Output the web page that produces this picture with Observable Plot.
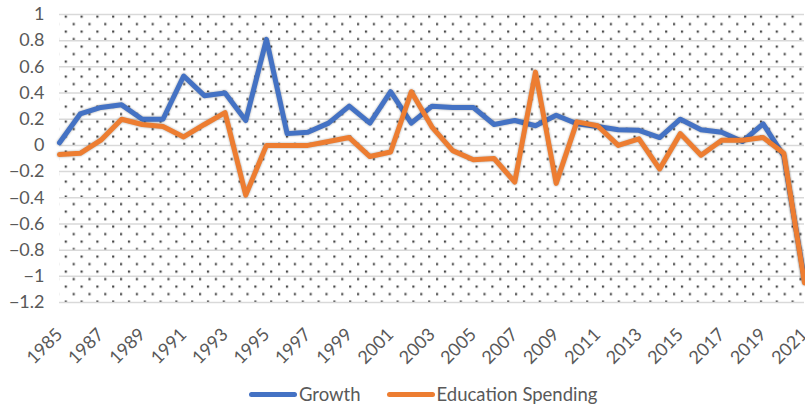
<!DOCTYPE html>
<html>
<head>
<meta charset="utf-8">
<script src="https://cdn.jsdelivr.net/npm/d3@7"></script>
<script src="https://cdn.jsdelivr.net/npm/@observablehq/plot@0.6"></script>
<style>
  html, body { margin: 0; padding: 0; background: #fff; overflow: hidden; }
  #wrap { position: relative; width: 805px; height: 406px; overflow: hidden; font-family: Lato, "Liberation Sans", sans-serif; }
  #chart { position: absolute; left: 0; top: 0; width: 805px; height: 375px; }
  #chart svg { display: block; }
  #legend { position: absolute; left: 249px; top: 382px; height: 24px; display: flex; align-items: center; font-size: 18.5px; line-height: 24px; color: #595959; white-space: nowrap; }
  .sw { display: inline-block; width: 48px; height: 5px; border-radius: 3px; margin-right: 2px; }
  .item { display: flex; align-items: center; }
</style>
</head>
<body>
<div id="wrap">
  <div id="chart"></div>
  <div id="legend"></div>
</div>
<script>
const years = [1985,1986,1987,1988,1989,1990,1991,1992,1993,1994,1995,1996,1997,1998,1999,2000,2001,2002,2003,2004,2005,2006,2007,2008,2009,2010,2011,2012,2013,2014,2015,2016,2017,2018,2019,2020,2021];
const growth = [0.02,0.24,0.29,0.31,0.20,0.20,0.53,0.38,0.40,0.19,0.81,0.09,0.10,0.17,0.30,0.17,0.41,0.17,0.30,0.29,0.29,0.16,0.19,0.15,0.23,0.165,0.145,0.12,0.115,0.06,0.20,0.12,0.10,0.03,0.165,-0.08,-1.03];
const educationSpending = [-0.07,-0.06,0.04,0.20,0.16,0.145,0.065,0.16,0.25,-0.38,0.0,0.0,0.0,0.03,0.06,-0.085,-0.05,0.41,0.14,-0.04,-0.11,-0.10,-0.28,0.56,-0.29,0.18,0.15,0.0,0.05,-0.18,0.09,-0.075,0.04,0.04,0.06,-0.06,-1.05];
const seriesNames = ["Growth", "Education Spending"];
const seriesColors = ["#4472C4", "#ED7D31"];
const xTicks = [1985,1987,1989,1991,1993,1995,1997,1999,2001,2003,2005,2007,2009,2011,2013,2015,2017,2019,2021];
const yTicks = [-1.2,-1,-0.8,-0.6,-0.4,-0.2,0,0.2,0.4,0.6,0.8,1];

const growthData = years.map((year, i) => ({year, value: growth[i]}));
const eduData = years.map((year, i) => ({year, value: educationSpending[i]}));

const fmt = d3.format("~g");

const plot = Plot.plot({
  width: 805,
  height: 375,
  marginLeft: 59,
  marginRight: 1,
  marginTop: 14,
  marginBottom: 73,
  style: {fontFamily: "Lato, 'Liberation Sans', sans-serif", fontSize: "18px", color: "#595959", background: "transparent", overflow: "visible"},
  x: {domain: [1985, 2021], ticks: xTicks, tickFormat: d => String(d), tickRotate: -45, tickSize: 0, tickPadding: 29, label: null},
  y: {domain: [-1.2, 1], ticks: yTicks, tickFormat: d => fmt(d), tickSize: 0, tickPadding: 15, label: null},
  marks: [
    Plot.frame({fill: "url(#dots)", stroke: null}),
    Plot.gridY(yTicks, {stroke: "#d9d9d9", strokeOpacity: 1, strokeWidth: 1.5}),
    Plot.lineY(growthData, {x: "year", y: "value", stroke: seriesColors[0], strokeWidth: 5, strokeLinejoin: "round", strokeLinecap: "round"}),
    Plot.lineY(eduData, {x: "year", y: "value", stroke: seriesColors[1], strokeWidth: 5, strokeLinejoin: "round", strokeLinecap: "round"})
  ]
});

// dotted background pattern
const svg = d3.select(plot);
const defs = svg.insert("defs", ":first-child");
const pat = defs.append("pattern").attr("id", "dots").attr("patternUnits", "userSpaceOnUse")
  .attr("width", 15.8).attr("height", 15).attr("x", 1).attr("y", 0);
pat.append("rect").attr("width", 15.8).attr("height", 15).attr("fill", "#fff");
pat.append("rect").attr("x", 0).attr("y", 0).attr("width", 2.2).attr("height", 2.2).attr("fill", "#4a4a4a");
pat.append("rect").attr("x", 7.9).attr("y", 7.5).attr("width", 2.2).attr("height", 2.2).attr("fill", "#4a4a4a");
svg.selectAll("[aria-label=frame] rect, rect[aria-label=frame]").attr("fill", "url(#dots)");
svg.selectAll("[aria-label=line] path").style("filter", "drop-shadow(0 0 1.2px rgba(0,0,0,0.35))");

document.getElementById("chart").appendChild(plot);

const legend = d3.select("#legend");
seriesNames.forEach((name, i) => {
  const it = legend.append("div").attr("class", "item").style("margin-right", i === 0 ? "26px" : "0");
  it.append("span").attr("class", "sw").style("background", seriesColors[i]);
  it.append("span").text(name);
});
</script>
</body>
</html>
